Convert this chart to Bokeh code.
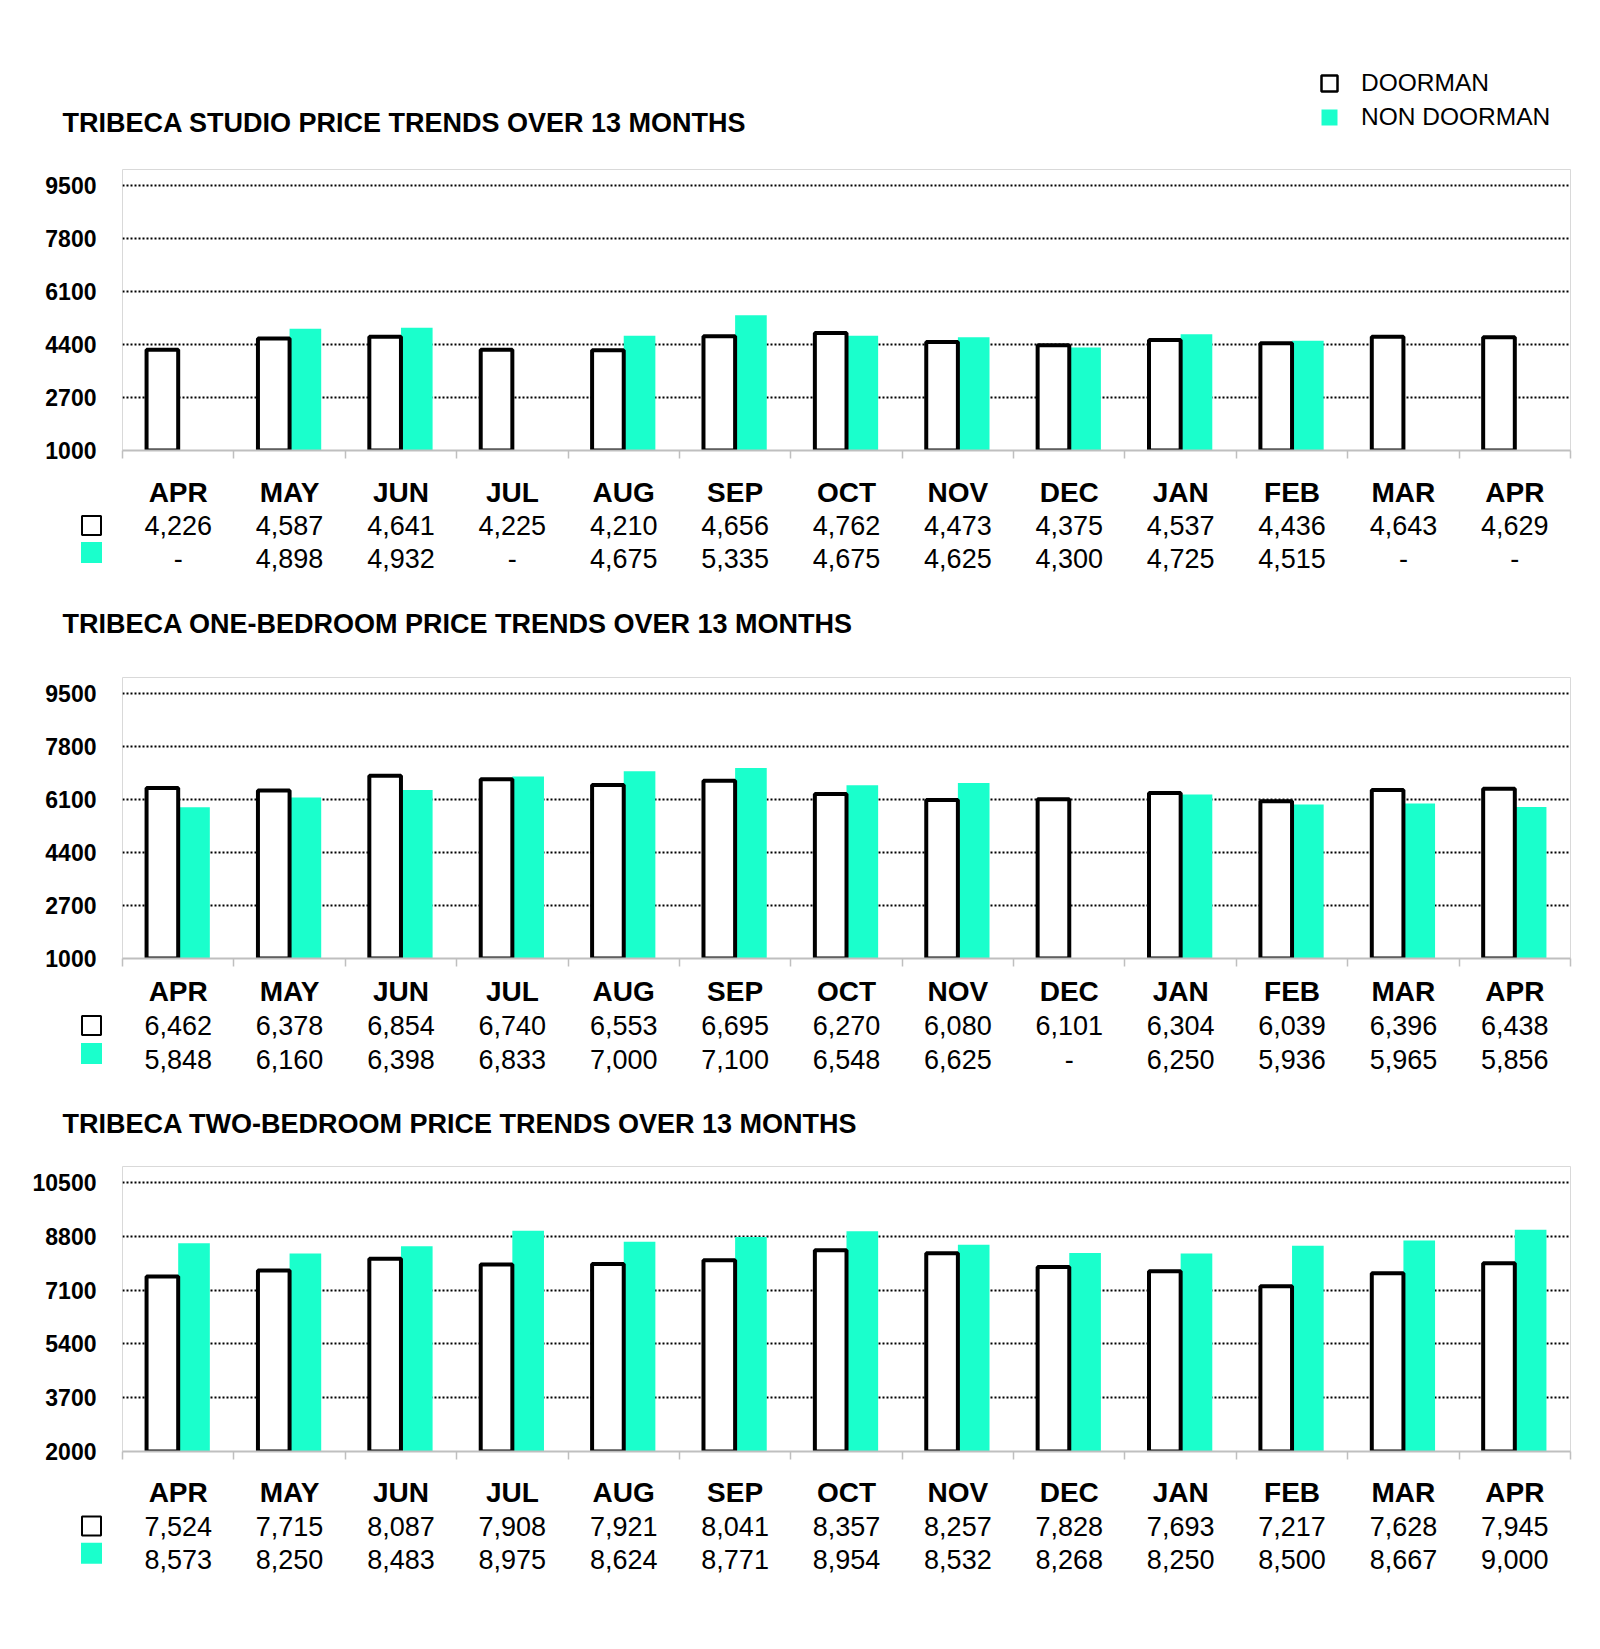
from bokeh.plotting import figure
from bokeh.models import Range1d, FixedTicker, Legend, LegendItem, ColumnDataSource, Label
from bokeh.layouts import column
from bokeh.embed import file_html
from bokeh.resources import INLINE
from bokeh.core.properties import value
from bokeh.transform import dodge

# ---------------- data ----------------
months = ["APR", "MAY", "JUN", "JUL", "AUG", "SEP", "OCT", "NOV", "DEC", "JAN", "FEB", "MAR", "APR"]

studio_title = "TRIBECA STUDIO PRICE TRENDS OVER 13 MONTHS"
studio_doorman = [4226, 4587, 4641, 4225, 4210, 4656, 4762, 4473, 4375, 4537, 4436, 4643, 4629]
studio_non_doorman = [None, 4898, 4932, None, 4675, 5335, 4675, 4625, 4300, 4725, 4515, None, None]
studio_ticks = [1000, 2700, 4400, 6100, 7800, 9500]
studio_range = [1000, 10000]

onebr_title = "TRIBECA ONE-BEDROOM PRICE TRENDS OVER 13 MONTHS"
onebr_doorman = [6462, 6378, 6854, 6740, 6553, 6695, 6270, 6080, 6101, 6304, 6039, 6396, 6438]
onebr_non_doorman = [5848, 6160, 6398, 6833, 7000, 7100, 6548, 6625, None, 6250, 5936, 5965, 5856]
onebr_ticks = [1000, 2700, 4400, 6100, 7800, 9500]
onebr_range = [1000, 10000]

twobr_title = "TRIBECA TWO-BEDROOM PRICE TRENDS OVER 13 MONTHS"
twobr_doorman = [7524, 7715, 8087, 7908, 7921, 8041, 8357, 8257, 7828, 7693, 7217, 7628, 7945]
twobr_non_doorman = [8573, 8250, 8483, 8975, 8624, 8771, 8954, 8532, 8268, 8250, 8500, 8667, 9000]
twobr_ticks = [2000, 3700, 5400, 7100, 8800, 10500]
twobr_range = [2000, 11000]

legend_labels = ["DOORMAN", "NON DOORMAN"]

# ---------------- style / layout ----------------
FONT = "Liberation Sans"
CYAN = "#1AFFCC"
GREY = "#BFBFBF"
TOTAL_W = 1584
FRAME_W = 1448
LEFT = 122
RIGHT = TOTAL_W - LEFT - FRAME_W
N = len(months)
CAT_PX = FRAME_W / N
BAR_W = 0.284
TABLE_EXTRA_LEFT = 65
SQUARE_X = -31 / CAT_PX
HEADER_H = 150
TITLE_X = 62


def fmt(v):
    return "-" if v is None else f"{v:,}"


def title_label(text, x, y):
    return Label(x=x, y=y, x_units="screen", y_units="screen", text=text,
                 text_font=FONT, text_font_size="27px", text_font_style="bold",
                 text_color="black", text_baseline="middle")


def header(title):
    p = figure(frame_width=TOTAL_W, frame_height=HEADER_H,
               x_range=Range1d(0, TOTAL_W), y_range=Range1d(0, HEADER_H),
               min_border_left=0, min_border_right=0, min_border_top=0, min_border_bottom=0,
               x_axis_type=None, y_axis_type=None, frame_align=False,
               output_backend="svg", toolbar_location=None)
    p.grid.visible = False
    p.outline_line_color = None
    # legend-only renderers (no drawable bar: top is NaN)
    nodata = ColumnDataSource(dict(x=[0], top=[float("nan")]))
    rd = p.vbar(x="x", top="top", width=1, source=nodata, fill_color="white",
                line_color="black", line_width=2.5)
    rn = p.vbar(x="x", top="top", width=1, source=nodata, fill_color=CYAN, line_color=None)
    leg = Legend(items=[LegendItem(label=legend_labels[0], renderers=[rd]),
                        LegendItem(label=legend_labels[1], renderers=[rn])],
                 location=(1319, 19))
    leg.label_text_font = FONT
    leg.label_text_font_size = "24.5px"
    leg.label_text_color = "black"
    leg.glyph_width = 20
    leg.glyph_height = 20
    leg.label_standoff = 22
    leg.spacing = 6
    leg.padding = 0
    leg.margin = 0
    leg.border_line_color = None
    leg.background_fill_alpha = 0
    p.add_layout(leg)
    p.add_layout(title_label(title, TITLE_X, 27.5))
    return p


def chart(door, non, ticks, yr, border_top, frame_h):
    src = ColumnDataSource(dict(
        x=[i + 0.5 for i in range(N)],
        door=door,
        non=[float("nan") if v is None else v for v in non],
    ))
    p = figure(frame_width=FRAME_W, frame_height=frame_h,
               x_range=Range1d(0, N), y_range=Range1d(yr[0], yr[1]),
               min_border_left=LEFT, min_border_right=RIGHT,
               min_border_top=border_top, min_border_bottom=14, frame_align=False,
               output_backend="svg", toolbar_location=None)

    p.vbar(x=dodge("x", BAR_W / 2), top="non", bottom=yr[0], width=BAR_W, source=src,
           fill_color=CYAN, line_color=None)
    p.vbar(x=dodge("x", -BAR_W / 2), top="door", bottom=yr[0], width=BAR_W, source=src,
           fill_color="white", line_color="black", line_width=4)

    p.xgrid.visible = False
    p.ygrid.ticker = FixedTicker(ticks=ticks[1:])
    p.ygrid.grid_line_color = "black"
    p.ygrid.grid_line_dash = "2 2"
    p.ygrid.grid_line_width = 2

    p.yaxis.ticker = FixedTicker(ticks=ticks)
    p.yaxis.axis_line_color = None
    p.yaxis.major_tick_line_color = None
    p.yaxis.minor_tick_line_color = None
    p.yaxis.major_label_standoff = 20
    p.yaxis.major_label_text_font = FONT
    p.yaxis.major_label_text_font_size = "23px"
    p.yaxis.major_label_text_font_style = "bold"
    p.yaxis.major_label_text_color = "black"

    # category boundary ticks (no labels) drawn as minor ticks
    p.xaxis.ticker = FixedTicker(ticks=[], minor_ticks=list(range(N + 1)))
    p.xaxis.minor_tick_out = 8
    p.xaxis.minor_tick_in = 0
    p.xaxis.minor_tick_line_color = GREY
    p.xaxis.minor_tick_line_width = 1.5
    p.xaxis.major_tick_line_color = None
    p.xaxis.axis_line_color = GREY
    p.xaxis.axis_line_width = 2

    p.outline_line_color = "#D9D9D9"
    p.outline_line_width = 1
    return p


def table(door, non, height, off, sp, next_title=None, title_y=0):
    x_start = -TABLE_EXTRA_LEFT / CAT_PX
    p = figure(frame_width=FRAME_W + TABLE_EXTRA_LEFT, frame_height=height,
               x_range=Range1d(x_start, N),
               y_range=Range1d((height - off) / sp, -off / sp),
               min_border_left=LEFT - TABLE_EXTRA_LEFT, min_border_right=RIGHT,
               min_border_top=0, min_border_bottom=0, frame_align=False,
               x_axis_type=None, y_axis_type=None,
               output_backend="svg", toolbar_location=None)
    p.grid.visible = False
    p.outline_line_color = None
    xs = [i + 0.5 for i in range(N)]
    p.text(x=xs, y=[0] * N, text=months, text_align="center", text_baseline="middle",
           text_font=value(FONT), text_font_size="28px", text_font_style="bold", text_color="black")
    p.text(x=xs, y=[1] * N, text=[fmt(v) for v in door], text_align="center", text_baseline="middle",
           text_font=value(FONT), text_font_size="27px", text_color="black")
    p.text(x=xs, y=[2] * N, text=[fmt(v) for v in non], text_align="center", text_baseline="middle",
           text_font=value(FONT), text_font_size="27px", text_color="black")
    p.scatter(x=[SQUARE_X], y=[1], marker="square", size=19, fill_color="white",
              line_color="black", line_width=2)
    p.scatter(x=[SQUARE_X], y=[1.82], marker="square", size=21, fill_color=CYAN, line_color=None)
    if next_title:
        p.add_layout(title_label(next_title, TITLE_X - (LEFT - TABLE_EXTRA_LEFT), title_y))
    return p


h0 = header(studio_title)
c1 = chart(studio_doorman, studio_non_doorman, studio_ticks, studio_range, 169 - HEADER_H, 281)
t1 = table(studio_doorman, studio_non_doorman, 196, 27.7, 33.2, onebr_title, 37)
c2 = chart(onebr_doorman, onebr_non_doorman, onebr_ticks, onebr_range, 17, 281)
t2 = table(onebr_doorman, onebr_non_doorman, 178, 18.7, 34.2, twobr_title, 27)
c3 = chart(twobr_doorman, twobr_non_doorman, twobr_ticks, twobr_range, 16, 285)
t3 = table(twobr_doorman, twobr_non_doorman, 135, 27.3, 33.2)

layout = column(h0, c1, t1, c2, t2, c3, t3, spacing=0)

open("out.html", "w").write(file_html(layout, INLINE))
